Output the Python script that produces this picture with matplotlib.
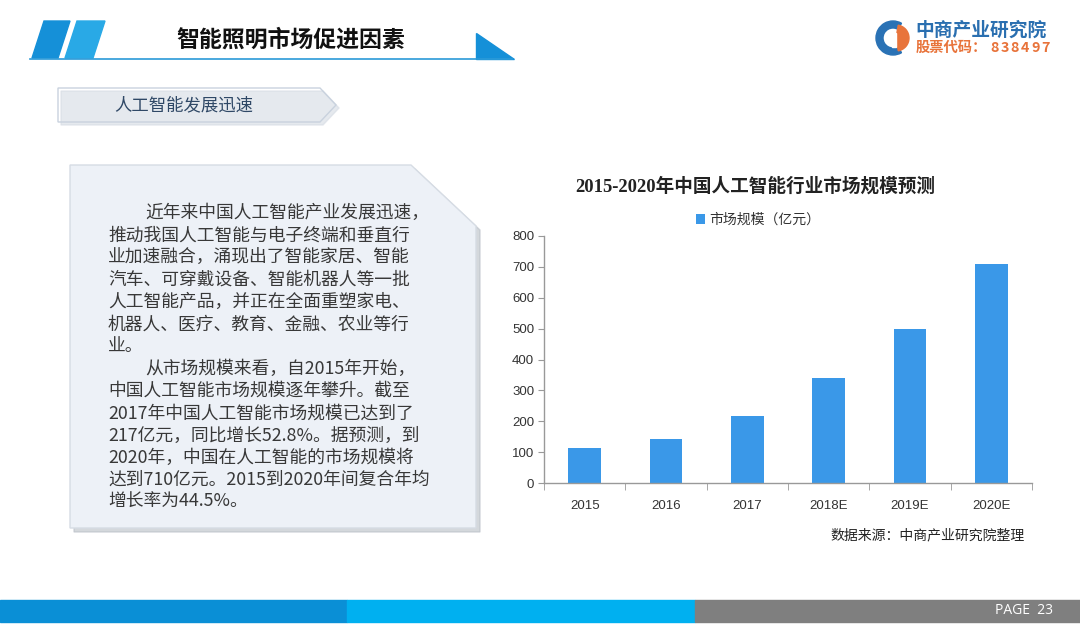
import numpy as np
import matplotlib.pyplot as plt
from matplotlib.patches import Polygon, Rectangle, Wedge
from matplotlib.colors import LinearSegmentedColormap

plt.rcParams['font.family'] = ['Noto Sans CJK SC', 'DejaVu Sans']

# chart data
years = ['2015', '2016', '2017', '2018E', '2019E', '2020E']
market_size = [112, 142, 217, 339, 500, 710]
series_name = '市场规模（亿元）'
chart_title = '2015-2020年中国人工智能行业市场规模预测'
yticks = [0, 100, 200, 300, 400, 500, 600, 700, 800]

slide_title = '智能照明市场促进因素'
sub_title = '人工智能发展迅速'
source_note = '数据来源：中商产业研究院整理'
body_lines = [
    '近年来中国人工智能产业发展迅速，',
    '推动我国人工智能与电子终端和垂直行',
    '业加速融合，涌现出了智能家居、智能',
    '汽车、可穿戴设备、智能机器人等一批',
    '人工智能产品，并正在全面重塑家电、',
    '机器人、医疗、教育、金融、农业等行',
    '业。',
    '从市场规模来看，自2015年开始，',
    '中国人工智能市场规模逐年攀升。截至',
    '2017年中国人工智能市场规模已达到了',
    '217亿元，同比增长52.8%。据预测，到',
    '2020年，中国在人工智能的市场规模将',
    '达到710亿元。2015到2020年间复合年均',
    '增长率为44.5%。',
]
indented = [0, 7]

fig = plt.figure(figsize=(10.8, 6.3), dpi=100)
fig.patch.set_facecolor('white')

# background layer in pixel coords
bg = fig.add_axes([0, 0, 1, 1])
bg.set_xlim(0, 1080)
bg.set_ylim(630, 0)
bg.axis('off')

# header
bg.add_patch(Polygon([(32, 58), (58, 58), (70, 21), (44, 21)], color='#1590d8'))
bg.add_patch(Polygon([(65, 58), (93, 58), (105, 21), (77, 21)], color='#29a9e6'))
bg.plot([30, 512], [59, 59], color='#2a9ad8', lw=1.2)
bg.add_patch(Polygon([(476, 33), (476, 59), (514, 59)], color='#1590d8'))
bg.text(291, 40, slide_title, ha='center', va='center', fontsize=16.5,
        fontweight='bold', color='#111111')

# logo
bg.add_patch(Wedge((893, 38), 17, 60, 300, width=7, color='#2a72b5'))
bg.add_patch(Wedge((896, 38), 13, -80, 80, color='#e8743b'))
bg.add_patch(Rectangle((892, 33), 4, 14, color='white'))
bg.text(915, 30, '中商产业研究院', ha='left', va='center', fontsize=13.5,
        fontweight='bold', color='#2a6fb0')
bg.text(916, 48, '股票代码：', ha='left', va='center', fontsize=10.3,
        color='#e8733a', fontweight='bold')
for k, ch in enumerate('838497'):
    bg.text(990 + k * 10.3, 48, ch, ha='left', va='center', fontsize=10.3,
            color='#e8733a', fontweight='bold')

# sub title banner with gradient
banner = Polygon([(58, 88), (320, 88), (336, 105), (320, 122), (58, 122)],
                 closed=True, facecolor='none', edgecolor='#c9d2de', lw=1)
bg.add_patch(Polygon([(61, 91), (323, 91), (339, 108), (323, 125), (61, 125)],
                     color='#d5dbe3', alpha=0.6))
grad = np.linspace(0, 1, 256).reshape(1, -1)
cm = LinearSegmentedColormap.from_list('g', ['#ffffff', '#dfe6ef'])
im = bg.imshow(grad, extent=(58, 336, 122, 88), cmap=cm, aspect='auto', zorder=2)
im.set_clip_path(banner)
bg.add_patch(banner)
bg.text(184, 105, sub_title, ha='center', va='center', fontsize=12.5,
        color='#2f4866', zorder=3)

# text box
box_pts = [(70, 165), (411, 165), (476, 226), (476, 528), (70, 528)]
bg.add_patch(Polygon([(x + 4, y + 4) for x, y in box_pts], color='#b8bec6', alpha=0.6))
bg.add_patch(Polygon(box_pts, facecolor='#edf1f7', edgecolor='#d6dce4', lw=1))
y0, dy = 213, 22.25
for i, line in enumerate(body_lines):
    x = 145 if i in indented else 108
    bg.text(x, y0 + i * dy, line, ha='left', va='center', fontsize=12.8,
            color='#383838')

# chart
ax = fig.add_axes([544 / 1080, 1 - 483 / 630, 488 / 1080, 247 / 630])
ax.patch.set_alpha(0)
pos = np.arange(len(years))
bars = ax.bar(pos, market_size, width=0.4, color='#3a98e8', label=series_name)
ax.set_xlim(-0.5, len(years) - 0.5)
ax.set_ylim(0, 800)
ax.set_yticks(yticks)
ax.set_xticks(pos)
ax.set_xticklabels(years)
ax.set_xticks(np.arange(-0.5, len(years)), minor=True)
ax.tick_params(axis='x', which='major', length=0, pad=12, labelsize=9.5, labelcolor='#333333')
ax.tick_params(axis='x', which='minor', length=5, color='#999999', direction='out')
ax.tick_params(axis='y', length=4, color='#999999', labelsize=9.5, labelcolor='#333333', pad=3)
for lbl in ax.get_xticklabels() + ax.get_yticklabels():
    lbl.set_family(['Liberation Sans', 'DejaVu Sans'])
for s in ['top', 'right']:
    ax.spines[s].set_visible(False)
for s in ['left', 'bottom']:
    ax.spines[s].set_color('#999999')
    ax.spines[s].set_linewidth(1)

fig.text(755 / 1080, 1 - 186 / 630, chart_title, ha='center', va='center',
         fontsize=13.4, fontweight='bold', color='#222222',
         family=['Liberation Serif', 'Noto Sans CJK SC'])
ax.legend(handles=[bars], loc='center', bbox_to_anchor=(758 / 1080, 1 - 220 / 630),
          bbox_transform=fig.transFigure, frameon=False, fontsize=10,
          handlelength=0.7, handleheight=0.7, handletextpad=0.3,
          labelcolor='#333333')
fig.text(1025 / 1080, 1 - 535 / 630, source_note, ha='right', va='center',
         fontsize=10, color='#222222')

# footer
bg.add_patch(Rectangle((0, 600), 347, 22, color='#0a8fd6'))
bg.add_patch(Rectangle((347, 600), 348, 22, color='#00b0f0'))
bg.add_patch(Rectangle((695, 600), 385, 22, color='#7f7f7f'))
bg.text(1053, 611, 'PAGE  23', ha='right', va='center', fontsize=10,
        color='white', family=['Open Sans', 'DejaVu Sans'])

fig.savefig('out.png', dpi=100, facecolor='white')
